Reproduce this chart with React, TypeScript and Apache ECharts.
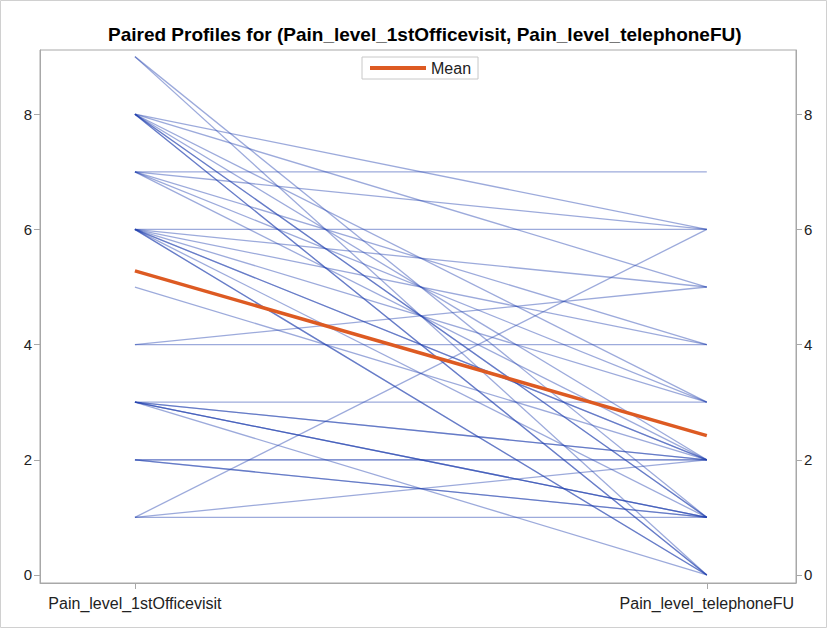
import React, { useEffect, useRef } from "react";
import * as echarts from "echarts";

const categories = ["Pain_level_1stOfficevisit", "Pain_level_telephoneFU"];
// paired values: first visit (left) and telephone follow-up (right)
const firstVisit = [9, 9, 8, 8, 8, 8, 8, 8, 8, 8, 7, 7, 7, 7, 7, 6, 6, 6, 6, 6, 6, 6, 6, 6, 5, 4, 4, 3, 3, 3, 3, 3, 3, 3, 2, 2, 2, 2, 1, 1, 1];
const telephoneFU = [1, 0, 6, 5, 3, 2, 1, 1, 0, 0, 7, 6, 3, 4, 2, 6, 5, 4, 3, 2, 2, 1, 0, 0, 2, 4, 5, 3, 2, 2, 1, 1, 1, 0, 2, 2, 1, 1, 1, 2, 6];
const meanValues = [5.28, 2.42];
const yTicks = [0, 2, 4, 6, 8];

export default function App() {
  const ref = useRef<HTMLDivElement>(null);
  useEffect(() => {
    document.body.style.margin = "0";
    const chart = echarts.init(ref.current!, null, { renderer: "svg" });
    const font = "'Liberation Sans', Arial, sans-serif";
    const pairSeries = firstVisit.map((a, i) => ({
      type: "line",
      name: "pair" + i,
      data: [
        [0, a],
        [1, telephoneFU[i]],
      ],
      symbol: "none",
      silent: true,
      lineStyle: { color: "rgba(35,66,175,0.45)", width: 1.3 },
      z: 2,
    }));
    const yAxisCommon = {
      type: "value",
      min: -0.139,
      max: 9.115,
      splitLine: { show: false },
      axisLine: { show: true, onZero: false, lineStyle: { color: "#a8a8a8" } },
      axisTick: { show: true, customValues: yTicks, length: 6, lineStyle: { color: "#a8a8a8" } },
      axisLabel: { customValues: yTicks, color: "#222", fontSize: 15, fontFamily: font, margin: 8 },
    };
    chart.setOption({
      animation: false,
      backgroundColor: "#fff",
      title: {
        text: "Paired Profiles for (Pain_level_1stOfficevisit, Pain_level_telephoneFU)",
        left: 103,
        top: 20,
        textStyle: { fontSize: 19, fontWeight: "bold", color: "#000", fontFamily: font },
      },
      legend: {
        data: ["Mean"],
        top: 57,
        left: 362,
        itemWidth: 56,
        itemHeight: 4,
        icon: "rect",
        borderColor: "#c8c8c8",
        borderWidth: 1,
        borderRadius: 0,
        padding: [3, 7, 3, 8],
        itemGap: 6,
        textStyle: { fontSize: 16, color: "#222", fontFamily: font },
      },
      graphic: [
        {
          type: "rect",
          shape: { x: 0.5, y: 0.5, width: 826, height: 627 },
          style: { fill: "none", stroke: "#d0d0d0", lineWidth: 1 },
          silent: true,
        },
      ],
      grid: {
        left: 40,
        right: 32,
        top: 50,
        bottom: 46,
        show: true,
        borderColor: "#a8a8a8",
        borderWidth: 1,
      },
      xAxis: {
        type: "value",
        min: -0.166,
        max: 1.156,
        splitLine: { show: false },
        axisLine: { show: true, onZero: false, lineStyle: { color: "#a8a8a8" } },
        axisTick: { show: true, customValues: [0, 1], length: 6, lineStyle: { color: "#a8a8a8" } },
        axisLabel: {
          customValues: [0, 1],
          formatter: (v: number) => categories[Math.round(v)] ?? "",
          color: "#222",
          fontSize: 16,
          fontFamily: font,
          margin: 12,
        },
      },
      yAxis: [
        { ...yAxisCommon, position: "left" },
        { ...yAxisCommon, position: "right" },
      ],
      series: [
        ...pairSeries,
        {
          type: "line",
          name: "Mean",
          data: [
            [0, meanValues[0]],
            [1, meanValues[1]],
          ],
          symbol: "none",
          silent: true,
          lineStyle: { color: "#DD5A22", width: 3.5 },
          itemStyle: { color: "#DD5A22" },
          z: 5,
        },
      ],
    });
    return () => chart.dispose();
  }, []);
  return <div ref={ref} style={{ width: 828, height: 629 }} />;
}
